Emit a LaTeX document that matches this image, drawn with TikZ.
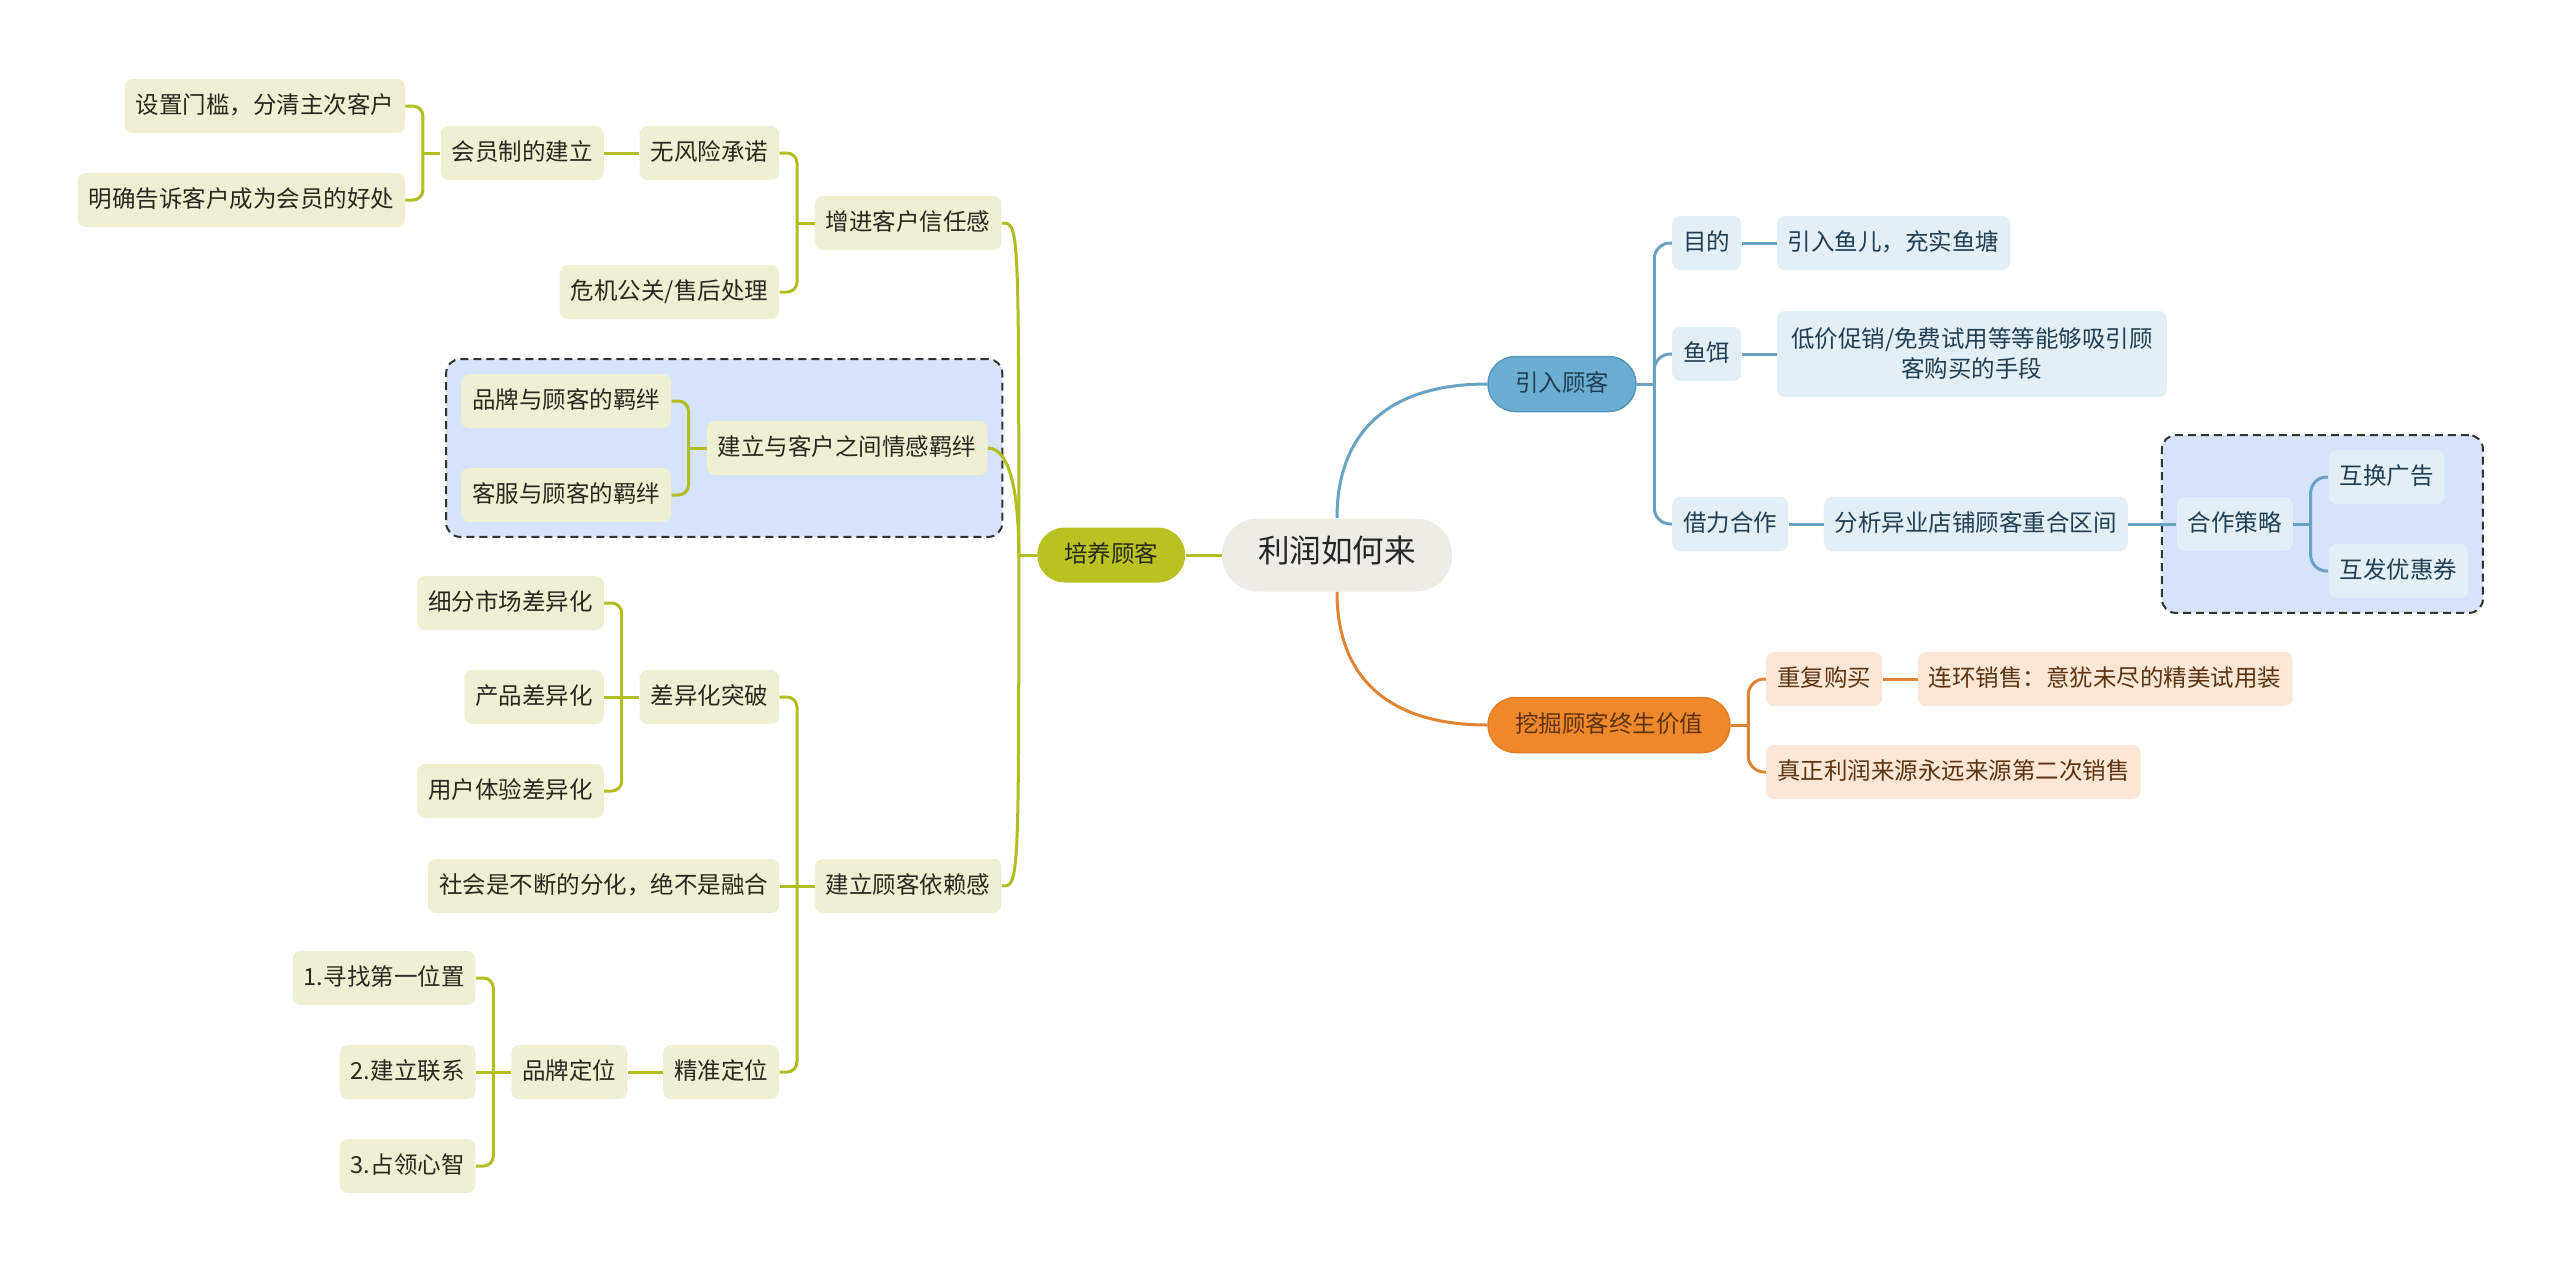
\documentclass[tikz,border=0pt]{standalone}
\usepackage{fontspec}
\setmainfont{Noto Sans CJK SC}
\usetikzlibrary{positioning,fit,backgrounds}
\definecolor{gline}{RGB}{178,190,32}
\definecolor{gmain}{RGB}{184,194,32}
\definecolor{gfill}{RGB}{239,240,211}
\definecolor{gtext}{RGB}{40,40,30}
\definecolor{bline}{RGB}{104,163,196}
\definecolor{bmain}{RGB}{108,174,210}
\definecolor{bdark}{RGB}{86,150,190}
\definecolor{bfill}{RGB}{226,239,247}
\definecolor{btext}{RGB}{33,62,82}
\definecolor{oline}{RGB}{224,131,50}
\definecolor{omain}{RGB}{242,136,44}
\definecolor{odark}{RGB}{228,124,36}
\definecolor{ofill}{RGB}{252,231,214}
\definecolor{otext}{RGB}{92,52,20}
\definecolor{rootfill}{RGB}{237,236,229}
\definecolor{grpfill}{RGB}{213,228,250}
\begin{document}
\begin{tikzpicture}[x=0.5pt,y=-0.5pt,node distance=17.5pt,every node/.style={font=\fontsize{11.75pt}{15pt}\selectfont},leaf/.style={rounded corners=4pt,minimum height=27pt,inner xsep=5.5pt,inner ysep=0pt,text height=.88em,text depth=.12em},gtag/.style={leaf,fill=gfill,text=gtext},btag/.style={leaf,fill=bfill,text=btext},otag/.style={leaf,fill=ofill,text=otext},branch/.style={leaf,rounded corners=13.75pt,minimum height=27.5pt,inner xsep=13.5pt},root/.style={fill=rootfill,text=black!85,rounded corners=18pt,minimum height=36.5pt,inner xsep=18pt,inner ysep=0pt,text height=.88em,text depth=.12em,font=\fontsize{15.8pt}{19pt}\selectfont},gl/.style={draw=gline,line width=1.5pt,rounded corners=5pt},bl/.style={draw=bline,line width=1.5pt,rounded corners=8pt},ol/.style={draw=oline,line width=1.5pt,rounded corners=8pt},grp/.style={draw=black!80,dash pattern=on 4pt off 2.5pt,line width=1pt,fill=grpfill,rounded corners=7pt,inner sep=7.25pt}]
\useasboundingbox (0,0) rectangle (2560,1275);
\node[root] (c) at (1337,555) {利润如何来};
\node[branch,fill=gmain,text=gtext,left=18pt of c] (pyk) {培养顾客};
\node[branch,fill=bmain,draw=bdark,line width=.75pt,text=btext] (yrk) at (1562,384) {引入顾客};
\node[branch,fill=omain,draw=odark,line width=.75pt,text=otext] (wjk) at (1609,725) {挖掘顾客终生价值};
\node[gtag,left=of pyk,yshift=166pt] (xr) {增进客户信任感};
\node[gtag,left=of xr,yshift=35pt] (wfx) {无风险承诺};
\node[gtag,left=of xr,yshift=-34.5pt] (wj) {危机公关/售后处理};
\node[gtag,left=of wfx] (hyz) {会员制的建立};
\node[gtag,left=of hyz,yshift=23.5pt] (mk) {设置门槛，分清主次客户};
\node[gtag,left=of hyz,yshift=-23.5pt] (hc) {明确告诉客户成为会员的好处};
\node[gtag,left=24.5pt of pyk,yshift=53.5pt] (qg) {建立与客户之间情感羁绊};
\node[gtag,left=of qg,yshift=23.5pt] (pp) {品牌与顾客的羁绊};
\node[gtag,left=of qg,yshift=-23.5pt] (kf) {客服与顾客的羁绊};
\node[gtag,left=of pyk,yshift=-165.5pt] (yl) {建立顾客依赖感};
\node[gtag,left=of yl,yshift=94.5pt] (cy) {差异化突破};
\node[gtag,left=of yl] (sh) {社会是不断的分化，绝不是融合};
\node[gtag,left=of yl,yshift=-93pt] (jz) {精准定位};
\node[gtag,left=of cy,yshift=47pt] (xf) {细分市场差异化};
\node[gtag,left=of cy] (cp) {产品差异化};
\node[gtag,left=of cy,yshift=-47pt] (yh) {用户体验差异化};
\node[gtag,left=of jz] (pd) {品牌定位};
\node[gtag,left=of pd,yshift=47pt] (d1) {1.寻找第一位置};
\node[gtag,left=of pd] (d2) {2.建立联系};
\node[gtag,left=of pd,yshift=-47pt] (d3) {3.占领心智};
\node[btag,right=of yrk,yshift=70.5pt] (md) {目的};
\node[btag,right=of yrk,yshift=15pt] (ye) {鱼饵};
\node[btag,right=of yrk,yshift=-70pt] (jl) {借力合作};
\node[btag,right=of md] (yy) {引入鱼儿，充实鱼塘};
\node[fill=bfill,text=btext,rounded corners=4pt,inner xsep=5.5pt,minimum height=43pt,minimum width=195pt,align=center,right=of ye] (dj) {低价促销/免费试用等等能够吸引顾\\客购买的手段};
\node[btag,right=of jl] (fx) {分析异业店铺顾客重合区间};
\node[btag,right=24pt of fx] (hz) {合作策略};
\node[btag,right=of hz,yshift=23.5pt] (hg) {互换广告};
\node[btag,right=of hz,yshift=-23.5pt] (hf) {互发优惠券};
\node[otag,right=of wjk,yshift=23pt] (cf) {重复购买};
\node[otag,right=of cf] (lh) {连环销售：意犹未尽的精美试用装};
\node[otag,right=of wjk,yshift=-23.5pt] (zz) {真正利润来源永远来源第二次销售};
\begin{scope}[on background layer]
\fill[white] (0,0) rectangle (2560,1275);
\node[grp,fit=(pp)(kf)(qg)] (g1) {};
\node[grp,fit=(hz)(hg)(hf)] (g2) {};
\end{scope}
\draw[gl] (c.west)--(pyk.east);
\draw[gl] (pyk.west)--++(-9pt,0) coordinate (pj);
\draw[gl] (pj) .. controls (pj|-xr.east) and (pj|-xr.east) .. (xr.east);
\draw[gl] (pj) .. controls +(0,-50) and +(25,0) .. (qg.east);
\draw[gl] (pj) .. controls (pj|-yl.east) and (pj|-yl.east) .. (yl.east);
\draw[gl] (xr.west)--++(-8.75pt,0) coordinate (j1); \draw[gl] (j1)|-(wfx.east); \draw[gl] (j1)|-(wj.east);
\draw[gl] (wfx.west)--(hyz.east);
\draw[gl] (hyz.west)--++(-8.75pt,0) coordinate (j2); \draw[gl] (j2)|-(mk.east); \draw[gl] (j2)|-(hc.east);
\draw[gl] (qg.west)--++(-9pt,0) coordinate (j3); \draw[gl] (j3)|-(pp.east); \draw[gl] (j3)|-(kf.east);
\draw[gl] (yl.west)--++(-8.75pt,0) coordinate (j4)--(sh.east); \draw[gl] (j4)|-(cy.east); \draw[gl] (j4)|-(jz.east);
\draw[gl] (cy.west)--++(-8.75pt,0) coordinate (j5)--(cp.east); \draw[gl] (j5)|-(xf.east); \draw[gl] (j5)|-(yh.east);
\draw[gl] (jz.west)--(pd.east);
\draw[gl] (pd.west)--++(-8.75pt,0) coordinate (j6)--(d2.east); \draw[gl] (j6)|-(d1.east); \draw[gl] (j6)|-(d3.east);
\draw[bl] (c.north) .. controls +(0,-85) and +(-100,0) .. (yrk.west);
\draw[bl] (yrk.east)--++(8.75pt,0) coordinate (k1); \draw[bl] (k1)|-(md.west); \draw[bl] (k1)|-(ye.west); \draw[bl] (k1)|-(jl.west);
\draw[bl] (md.east)--(yy.west); \draw[bl] (ye.east)--(dj.west); \draw[bl] (jl.east)--(fx.west); \draw[bl] (fx.east)--(hz.west);
\draw[bl] (hz.east)--++(8.75pt,0) coordinate (k2); \draw[bl] (k2)|-(hg.west); \draw[bl] (k2)|-(hf.west);
\draw[ol] (c.south) .. controls +(0,85) and +(-100,0) .. (wjk.west);
\draw[ol] (wjk.east)--++(8.75pt,0) coordinate (k3); \draw[ol] (k3)|-(cf.west); \draw[ol] (k3)|-(zz.west);
\draw[ol] (cf.east)--(lh.west);
\end{tikzpicture}
\end{document}
